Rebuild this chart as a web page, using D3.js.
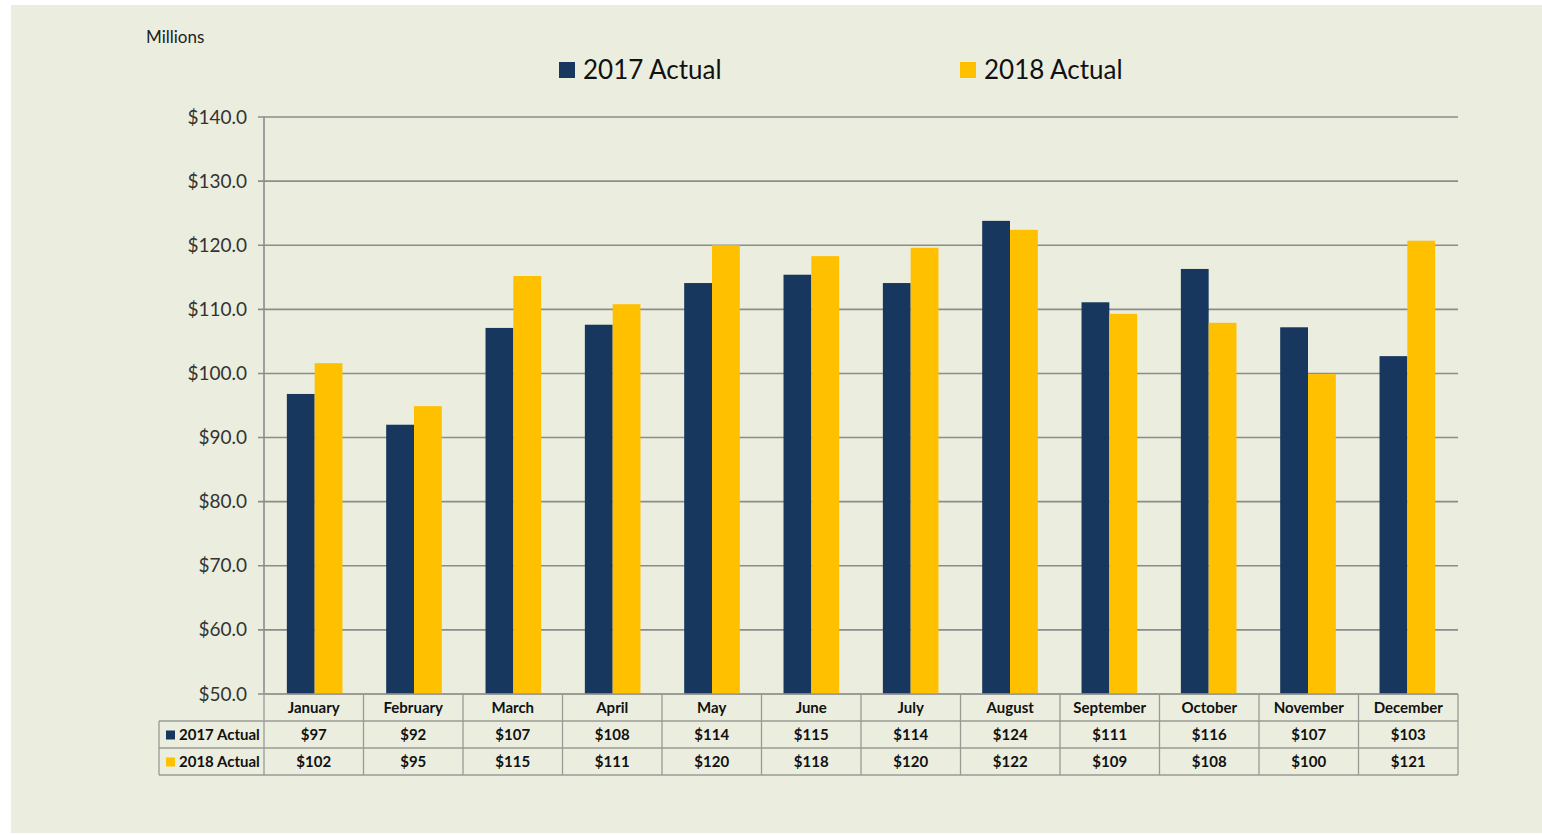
<!DOCTYPE html>
<html><head><meta charset="utf-8">
<script src="https://cdn.jsdelivr.net/npm/d3@7"></script>
<style>
html,body{margin:0;padding:0;background:#fff;}
svg text{font-family:Lato,"Open Sans",sans-serif;}
</style></head>
<body>
<svg id="chart" width="1542" height="835"></svg>
<script>
const months = ["January","February","March","April","May","June","July","August","September","October","November","December"];
const seriesNames = ["2017 Actual","2018 Actual"];
const values2017 = [96.8,92.0,107.1,107.6,114.1,115.4,114.1,123.8,111.1,116.3,107.2,102.7];
const values2018 = [101.6,94.9,115.2,110.8,120.0,118.3,119.6,122.4,109.3,107.9,99.9,120.7];
const table2017 = ["$97","$92","$107","$108","$114","$115","$114","$124","$111","$116","$107","$103"];
const table2018 = ["$102","$95","$115","$111","$120","$118","$120","$122","$109","$108","$100","$121"];
const yTicks = [50,60,70,80,90,100,110,120,130,140];
const colors = ["#17375E","#FFC000"];

const svg = d3.select("#chart");
svg.append("rect").attr("x",11).attr("y",5).attr("width",1531).attr("height",828).attr("fill","#EBEEDF");

const L=264, R=1458, T=117, B=694;
const x = d3.scaleBand().domain(months).range([L,R]).paddingInner(0.44).paddingOuter(0.23);
const xs = d3.scaleBand().domain(seriesNames).range([0,x.bandwidth()]);
const y = d3.scaleLinear().domain([50,140]).range([B,T]);
const grid = "#8C8C8C";

// gridlines
svg.append("g").selectAll("line").data(yTicks).join("line")
  .attr("x1",258).attr("x2",R).attr("y1",d=>y(d)).attr("y2",d=>y(d))
  .attr("stroke",grid).attr("stroke-width",1.6);
// y axis line
svg.append("line").attr("x1",L).attr("x2",L).attr("y1",T).attr("y2",B).attr("stroke",grid).attr("stroke-width",1.6);

// y labels
const yAxis = d3.axisLeft(y).tickValues(yTicks).tickFormat(d=>"$"+d.toFixed(1)).tickSize(0).tickPadding(17);
const ya = svg.append("g").attr("transform",`translate(${L},0)`).call(yAxis);
ya.select(".domain").remove();
ya.selectAll("text").attr("font-size",19).attr("fill","#333").style("font-family","Lato,'Open Sans',sans-serif");

// bars
const data = months.map((m,i)=>({m, vals:[values2017[i],values2018[i]]}));
const g = svg.append("g");
data.forEach(d=>{
  d.vals.forEach((v,j)=>{
    g.append("rect").attr("x",x(d.m)+xs(seriesNames[j])).attr("width",xs.bandwidth())
      .attr("y",y(v)).attr("height",y(50)-y(v)).attr("fill",colors[j]);
  });
});

// data table
const rowH=27, tL=159;
const rowsY=[B, B+rowH, B+2*rowH, B+3*rowH];
const step = (R-L)/12;
const tbl = svg.append("g");
const bc="#9A9A95";
tbl.append("line").attr("x1",L).attr("x2",R).attr("y1",B).attr("y2",B).attr("stroke",bc).attr("stroke-width",1.6);
[1,2,3].forEach(k=>{
  tbl.append("line").attr("x1",tL).attr("x2",R).attr("y1",rowsY[k]).attr("y2",rowsY[k]).attr("stroke",bc).attr("stroke-width",1.3);
});
tbl.append("line").attr("x1",tL).attr("x2",tL).attr("y1",rowsY[1]).attr("y2",rowsY[3]).attr("stroke",bc).attr("stroke-width",1.3);
d3.range(13).forEach(k=>{
  tbl.append("line").attr("x1",L+k*step).attr("x2",L+k*step).attr("y1",B).attr("y2",rowsY[3]).attr("stroke",bc).attr("stroke-width",1.3);
});
tbl.selectAll("text.h").data(months).join("text").attr("class","h")
  .attr("x",(d,i)=>L+(i+0.5)*step).attr("y",B+rowH/2+5).attr("text-anchor","middle")
  .attr("font-size",15).attr("font-weight","bold").attr("fill","#111").text(d=>d);
[table2017,table2018].forEach((arr,j)=>{
  tbl.selectAll("text.r"+j).data(arr).join("text").attr("class","r"+j)
    .attr("x",(d,i)=>L+(i+0.5)*step).attr("y",rowsY[j+1]+rowH/2+5).attr("text-anchor","middle")
    .attr("font-size",15).attr("font-weight","bold").attr("fill","#111").text(d=>d);
  tbl.append("rect").attr("x",166).attr("y",rowsY[j+1]+rowH/2-4).attr("width",9).attr("height",9).attr("fill",colors[j]);
  tbl.append("text").attr("x",179).attr("y",rowsY[j+1]+rowH/2+5).attr("font-size",15).attr("font-weight","bold")
    .attr("fill","#111").text(seriesNames[j]);
});

// legend
const legX=[559,960];
seriesNames.forEach((s,j)=>{
  svg.append("rect").attr("x",legX[j]).attr("y",62).attr("width",16).attr("height",16).attr("fill",colors[j]);
  svg.append("text").attr("x",legX[j]+24).attr("y",79).attr("font-size",26).attr("fill","#111").text(s);
});

svg.append("text").attr("x",146).attr("y",43).attr("font-size",17).attr("fill","#222").text("Millions");
</script>
</body></html>
